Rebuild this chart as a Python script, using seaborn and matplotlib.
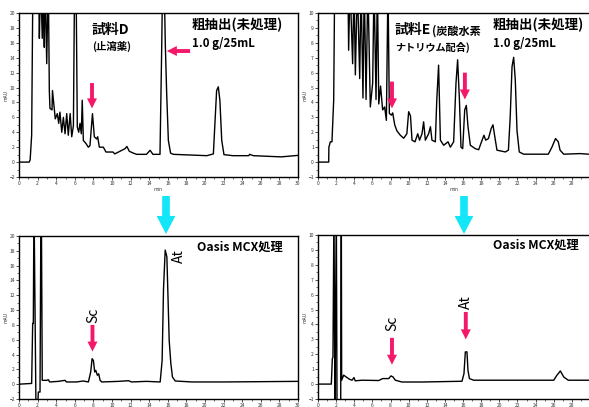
import matplotlib
matplotlib.use("Agg")
import matplotlib.pyplot as plt
import seaborn as sns
import pandas as pd
from matplotlib.ticker import MultipleLocator

# ---------------- data ----------------
# top-left: 試料D crude extract (mAU vs min); 25 = off-scale top
tl_time = [0, 1.1, 1.2, 1.36, 1.5, 2.1, 2.19, 2.33, 2.5, 2.6, 2.72, 2.8, 2.98, 3.15, 3.26, 3.33,
           3.55, 3.6, 3.9, 4.12, 4.27, 4.4, 4.6, 4.77, 4.95, 5.13, 5.3, 5.5, 5.67, 5.85, 5.98, 6.13,
           6.27, 6.42, 6.56, 6.7, 6.8, 6.92, 7.2, 7.45, 7.63, 7.9, 8.1, 8.35, 8.46, 8.64, 9.07, 9.35,
           10.1, 10.3, 11.4, 11.6, 11.86, 12.3, 12.65, 13.7, 14.1, 14.4, 15.16, 15.34, 15.45, 15.6,
           15.73, 15.88, 16.06, 16.3, 16.6, 20.2, 20.9, 21.1, 21.25, 21.43, 21.6, 21.8, 22.04, 23.0,
           24.7, 24.8, 25.2, 28.2, 30.0]
tl_mau = [0.0, 0.0, 0.3, 3.6, 25, 25, 16.6, 25, 16.6, 25, 15.4, 25, 13.2, 25, 9.6, 7.2,
          7.0, 9.6, 5.8, 6.5, 5.2, 6.7, 4.0, 6.0, 3.8, 6.5, 3.6, 6.5, 3.4, 4.9, 25, 25,
          4.7, 4.0, 5.2, 3.8, 8.3, 2.9, 2.5, 2.0, 2.2, 6.5, 3.4, 3.1, 3.4, 2.0, 2.0, 1.35,
          1.35, 1.1, 1.8, 2.1, 1.45, 1.2, 1.04, 1.04, 1.58, 1.04, 1.04, 15.0, 25, 25,
          15.9, 9.2, 2.9, 1.2, 1.04, 0.86, 1.1, 6.0, 9.6, 10.1, 8.3, 2.9, 1.0, 0.86,
          0.86, 1.04, 0.86, 0.7, 0.9]

# top-right: 試料E crude extract; 12 = off-scale top
tr_time = [0, 1.18, 1.2, 1.36, 1.54, 1.73, 1.84, 3.3, 3.38, 3.53, 3.82, 3.97, 4.12, 4.34, 4.6,
           4.75, 4.96, 5.1, 5.3, 5.5, 5.77, 6.03, 6.18, 6.4, 6.55, 6.7, 6.9, 7.13, 7.35, 7.54,
           7.72, 7.87, 8.1, 8.24, 8.46, 8.7, 9.08, 9.45, 9.8, 10.0, 10.2, 10.37, 10.7, 11.0,
           11.2, 11.47, 11.65, 11.84, 12.2, 12.4, 12.57, 12.94, 13.1, 13.3, 13.5, 13.86, 14.34,
           14.6, 14.96, 15.22, 15.4, 15.6, 15.77, 15.96, 16.18, 16.36, 16.54, 16.8, 17.35, 17.72,
           18.1, 18.3, 18.5, 18.8, 19.1, 19.3, 19.5, 19.74, 20.66, 21.0, 21.2, 21.4, 21.58, 21.76,
           21.95, 22.2, 22.68, 25.4, 25.8, 26.2, 26.5, 26.7, 27.1, 28.9, 29.85]
tr_mau = [0.0, 0.0, 1.0, 1.36, 1.36, 4.16, 12, 12, 7.5, 12, 6.6, 12, 5.85, 12, 5.6,
          12, 4.3, 12, 4.2, 12, 3.7, 5.3, 12, 4.2, 12, 3.9, 5.1, 3.5, 3.7, 2.8,
          12, 3.26, 3.15, 3.3, 2.5, 2.1, 1.8, 1.6, 1.9, 3.38, 3.1, 1.47, 1.36, 1.9,
          1.47, 1.9, 2.7, 1.47, 1.9, 2.37, 1.47, 1.36, 4.16, 6.5, 1.47, 1.13, 1.36,
          1.0, 1.36, 5.3, 6.86, 4.16, 1.0, 0.9, 3.5, 3.8, 2.4, 1.13, 0.9, 0.83,
          1.47, 1.8, 1.47, 1.58, 2.25, 2.5, 1.7, 0.8, 0.68, 0.8, 3.04, 6.4, 7.03, 5.5,
          2.1, 0.68, 0.53, 0.53, 1.0, 1.58, 1.36, 0.8, 0.53, 0.57, 0.53]

# bottom-left: 試料D after Oasis MCX; 25 = off-scale top, -4 = off-scale bottom
bl_time = [0, 1.36, 1.47, 1.54, 1.61, 1.83, 1.97, 2.08, 2.26, 2.33, 2.4, 2.5, 2.98, 3.16, 3.3,
           4.23, 4.95, 5.1, 6.2, 6.9, 7.46, 7.71, 7.86, 8.0, 8.14, 8.25, 8.43, 8.57, 8.72, 8.9,
           10.7, 11.77, 12.1, 13.7, 15.18, 15.39, 15.54, 15.72, 15.9, 16.0, 16.15, 16.33, 16.5,
           16.8, 18.6, 22.0, 30.0]
bl_mau = [0.0, 0.1, 8.2, 8.2, 25, -4, -4, -1.06, -1.06, 16.7, 25, 0.52, 0.52, 0.6, 0.3,
          0.38, 0.52, 0.3, 0.3, 0.43, 0.3, 1.64, 3.44, 3.2, 1.64, 1.87, 1.2, 1.4, 0.52, 0.3,
          0.38, 0.47, 0.3, 0.38, 0.3, 3.2, 12.9, 18.1, 17.2, 12.7, 5.9, 2.77, 0.97,
          0.43, 0.3, 0.3, 0.38]

# bottom-right: 試料E after Oasis MCX; 12 = off-scale top, -2 = off-scale bottom
br_time = [0, 1.47, 1.58, 1.65, 1.76, 1.87, 2.02, 2.1, 2.5, 2.57, 2.61, 2.83, 3.1, 3.46, 3.75,
           3.97, 4.1, 4.85, 6.7, 7.13, 7.8, 8.05, 8.27, 8.53, 9.26, 11.47, 15.88, 16.1, 16.25,
           16.43, 16.54, 16.7, 17.17, 18.27, 23.2, 26.0, 26.36, 26.73, 27.1, 27.6, 29.9]
br_mau = [0.0, 0.0, 1.7, 1.8, 12, -2, 12, -2, -2, 12, 0.26, 0.6, 0.48, 0.33, 0.26,
          0.44, 0.22, 0.26, 0.24, 0.37, 0.37, 0.55, 0.48, 0.26, 0.14, 0.14, 0.19, 0.7, 2.16,
          2.16, 0.93, 0.37, 0.26, 0.26, 0.26, 0.26, 0.6, 0.88, 0.48, 0.26, 0.26]

left_xticks = list(range(0, 31, 2))
right_xticks = list(range(0, 29, 2))
left_yticks = list(range(-2, 21, 2))
right_yticks = list(range(-1, 11, 1))

# ---------------- figure ----------------
sns.set_style("white")
plt.rcParams["font.family"] = ["Noto Sans CJK JP", "DejaVu Sans"]

W, H = 589, 407
fig = plt.figure(figsize=(W / 100, H / 100), dpi=100)
fig.patch.set_facecolor("white")


def px_axes(l, r, t, b):
    return fig.add_axes([l / W, 1 - b / H, (r - l) / W, (b - t) / H])


def style(ax, ylim, xticks, yticks, yminor, xlabel=True):
    ax.set_xlim(0, 30)
    ax.set_ylim(*ylim)
    ax.set_xticks(xticks)
    ax.set_yticks(yticks)
    ax.xaxis.set_minor_locator(MultipleLocator(1))
    ax.yaxis.set_minor_locator(MultipleLocator(yminor))
    ax.tick_params(which="major", direction="out", length=2, width=0.6,
                   labelsize=3.5, pad=1, colors="#333333", left=True, bottom=True)
    ax.tick_params(which="minor", direction="out", length=1.2, width=0.5,
                   left=True, bottom=True, color="#333333")
    for s in ax.spines.values():
        s.set_linewidth(1.0)
        s.set_color("black")
    ax.set_xlabel("min" if xlabel else "", fontsize=3.5, labelpad=0.5, color="#333333")
    ax.set_ylabel("mAU", fontsize=3.5, labelpad=0.5, color="#333333")


def trace(ax, t, v):
    df = pd.DataFrame({"min": t, "mAU": v})
    sns.lineplot(data=df, x="min", y="mAU", ax=ax, color="black", lw=1.0,
                 estimator=None, sort=False)


ax_tl = px_axes(19, 298, 13, 177)
ax_tr = px_axes(318, 590, 13, 177)
ax_bl = px_axes(19, 298, 236, 399)
ax_br = px_axes(318, 590, 235, 399)

trace(ax_tl, tl_time, tl_mau)
trace(ax_tr, tr_time, tr_mau)
trace(ax_bl, bl_time, bl_mau)
trace(ax_br, br_time, br_mau)

style(ax_tl, (-2, 20), left_xticks, left_yticks, 1)
style(ax_bl, (-2, 20), left_xticks, left_yticks, 1, xlabel=False)
style(ax_tr, (-1, 10), right_xticks, right_yticks, 0.5)
style(ax_br, (-1, 10), right_xticks, right_yticks, 0.5, xlabel=False)

PINK = "#f5186a"
CYAN = "#12e6f8"
pink_style = "simple,head_length=0.9,head_width=0.9,tail_width=0.35"


def parrow(ax, x0, y0, x1, y1):
    ax.annotate("", xy=(x1, y1), xytext=(x0, y0), xycoords="data",
                arrowprops=dict(arrowstyle=pink_style, color=PINK, lw=0,
                                mutation_scale=8, shrinkA=0, shrinkB=0))


def ftxt(x, y, s, size, ha="left", weight="bold", rot=0, **kw):
    fig.text(x / W, 1 - y / H, s, fontsize=size, ha=ha, va="center",
             fontweight=weight, rotation=rot, color="black", **kw)


# top-left annotations
ftxt(92, 30, "試料D", 10)
ftxt(92, 46, "(止瀉薬)", 7.5)
ftxt(192, 25, "粗抽出(未処理)", 9.7)
ftxt(192, 43, "1.0 g/25mL", 8.3)
parrow(ax_tl, 18.4, 14.9, 15.9, 14.9)
parrow(ax_tl, 7.85, 10.6, 7.85, 7.2)

# top-right annotations
ftxt(395, 30, "試料E", 10)
ftxt(432, 31, "(炭酸水素", 8)
ftxt(395, 47, "ナトリウム配合)", 7.3)
ftxt(493, 25, "粗抽出(未処理)", 9.7)
ftxt(493, 43, "1.0 g/25mL", 8.3)
parrow(ax_tr, 8.16, 5.4, 8.16, 3.6)
parrow(ax_tr, 16.2, 6.0, 16.2, 4.2)

# bottom-left annotations
ftxt(197, 247, "Oasis MCX処理", 8.8)
ftxt(93, 315, "Sc", 10, ha="center", weight="normal", rot=90)
ftxt(179, 256, "At", 10, ha="center", weight="normal", rot=90)
parrow(ax_bl, 7.9, 8.0, 7.9, 4.4)

# bottom-right annotations
ftxt(493, 245, "Oasis MCX処理", 8.8)
ftxt(392, 323, "Sc", 10, ha="center", weight="normal", rot=90)
ftxt(466, 302, "At", 10, ha="center", weight="normal", rot=90)
parrow(ax_br, 8.16, 3.1, 8.16, 1.3)
parrow(ax_br, 16.3, 4.84, 16.3, 3.0)

# cyan arrows between rows
cyan_style = "simple,head_length=1.3,head_width=1.35,tail_width=0.55"
for x in (166, 464):
    ax_bl.annotate("", xy=(x, H - 234), xytext=(x, H - 196), xycoords="figure pixels",
                   arrowprops=dict(arrowstyle=cyan_style, color=CYAN, lw=0,
                                   mutation_scale=10, shrinkA=0, shrinkB=0),
                   annotation_clip=False)

fig.savefig("out.png", dpi=100, facecolor="white")
